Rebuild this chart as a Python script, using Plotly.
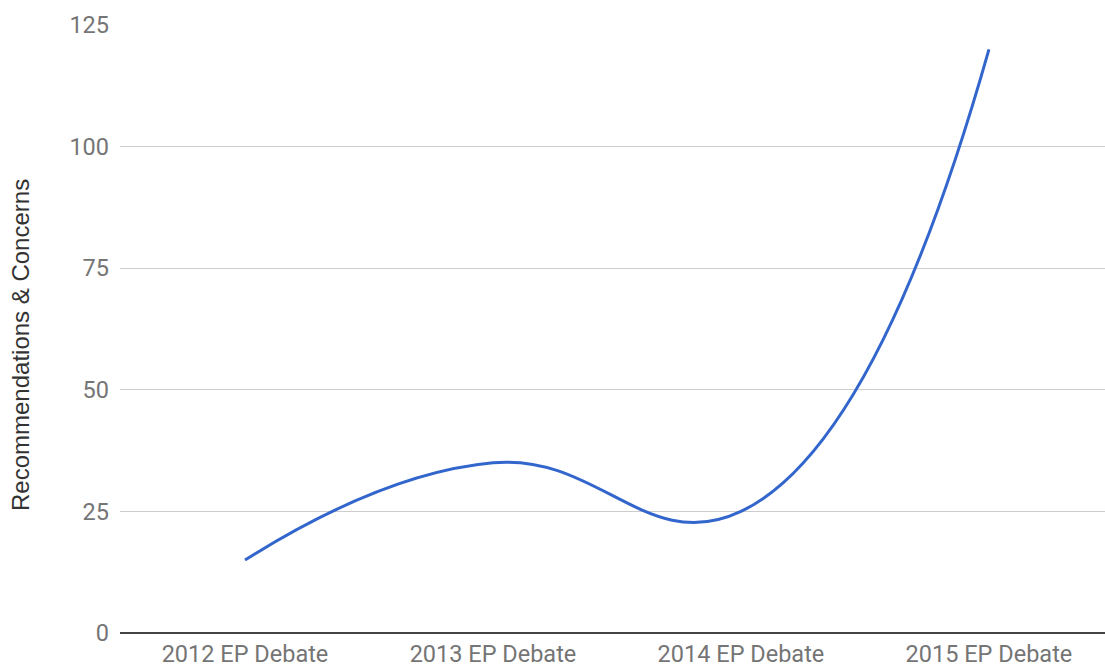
import plotly.graph_objects as go

categories = ["2012 EP Debate", "2013 EP Debate", "2014 EP Debate", "2015 EP Debate"]
values = [15, 35, 25, 120]
y_ticks = [0, 25, 50, 75, 100, 125]
y_title = "Recommendations & Concerns"

fig = go.Figure()
fig.add_trace(go.Scatter(
    x=categories, y=values, mode="lines",
    line=dict(color="#3366CC", width=3, shape="spline", smoothing=1.3),
    hoverinfo="x+y", showlegend=False,
))

fig.update_layout(
    width=1105, height=667,
    margin=dict(l=120, r=0, t=25, b=34),
    paper_bgcolor="white", plot_bgcolor="white",
    font=dict(family="Roboto", size=23, color="#757575"),
)
fig.update_xaxes(
    type="category", range=[-0.504, 3.468],
    showgrid=False, zeroline=False, showline=False,
    ticks="", ticklabelstandoff=4, automargin=False,
    tickfont=dict(family="Roboto", size=23.5, color="#757575"),
)
fig.update_yaxes(
    range=[0, 125], tickvals=y_ticks,
    showgrid=True, gridcolor="#cccccc", gridwidth=1,
    zeroline=True, zerolinecolor="#444444", zerolinewidth=2,
    showline=False, ticks="", ticklabelstandoff=10,
    tickfont=dict(family="Roboto", size=23.5, color="#757575"),
    automargin=False,
)
fig.add_annotation(
    text=y_title, textangle=-90,
    xref="paper", yref="paper",
    x=-120 / 985 + 20 / 985, y=(633 - 345) / 608,
    xanchor="center", yanchor="middle", showarrow=False,
    font=dict(family="Liberation Sans", size=24, color="#333333"),
)

fig.write_html("out.html")
